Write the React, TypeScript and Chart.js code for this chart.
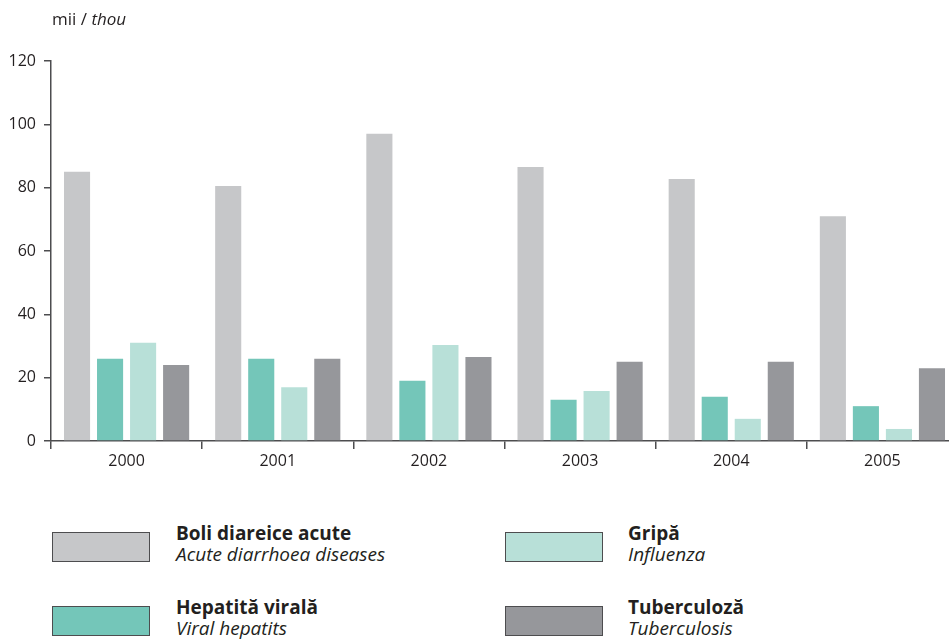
import React, { useEffect, useRef } from "react";
import { Chart, registerables } from "chart.js";

Chart.register(...registerables);

const categories = ["2000", "2001", "2002", "2003", "2004", "2005"];
const diarrhoea = [85, 80.5, 97, 86.5, 82.7, 71];
const hepatitis = [26, 26, 19, 13, 14, 11];
const influenza = [31, 17, 30.3, 15.8, 7, 3.8];
const tuberculosis = [24, 26, 26.5, 25, 25, 23];
const yTicks = [0, 20, 40, 60, 80, 100, 120];

const seriesNames = [
  { ro: "Boli diareice acute", en: "Acute diarrhoea diseases" },
  { ro: "Hepatită virală", en: "Viral hepatits" },
  { ro: "Gripă", en: "Influenza" },
  { ro: "Tuberculoză", en: "Tuberculosis" },
];
const colors = ["#c6c7c9", "#74c6b9", "#b8e0d8", "#96979b"];

const FONT = "'Open Sans', 'Noto Sans', sans-serif";
const AXIS = "#4d4d4f";

export default function App() {
  const ref = useRef<HTMLCanvasElement | null>(null);

  useEffect(() => {
    if (!ref.current) return;
    const data = [diarrhoea, hepatitis, influenza, tuberculosis];
    const chart = new Chart(ref.current, {
      type: "bar",
      data: {
        labels: categories,
        datasets: data.map((d, i) => ({
          label: seriesNames[i].ro,
          data: d,
          backgroundColor: colors[i],
          borderWidth: 0,
          categoryPercentage: 0.874,
          barPercentage: 0.79,
        })),
      },
      options: {
        animation: false,
        responsive: false,
        layout: { padding: { top: 61, left: 0, right: 0, bottom: 0 } },
        plugins: { legend: { display: false }, tooltip: { enabled: false } },
        scales: {
          x: {
            offset: true,
            grid: {
              offset: true,
              drawOnChartArea: false,
              drawTicks: true,
              tickLength: 8,
              color: AXIS,
              lineWidth: 1.5,
            },
            border: { display: true, color: AXIS, width: 1.5 },
            ticks: {
              color: "#231f20",
              font: { family: FONT, size: 16 },
              padding: 3,
              maxRotation: 0,
            },
            afterFit: (s: any) => {
              s.height = 39;
            },
          },
          y: {
            min: 0,
            max: 120,
            afterBuildTicks: (s: any) => {
              s.ticks = yTicks.map((v) => ({ value: v }));
            },
            grid: {
              drawOnChartArea: false,
              drawTicks: true,
              tickLength: 7,
              color: AXIS,
              lineWidth: 1.5,
            },
            border: { display: true, color: AXIS, width: 1.5 },
            ticks: {
              color: "#231f20",
              font: { family: FONT, size: 16 },
              padding: 8,
            },
            afterFit: (s: any) => {
              s.width = 51;
            },
          },
        },
      },
    });
    return () => chart.destroy();
  }, []);

  const legendPos = [
    { left: 52, top: 532, textLeft: 176 },
    { left: 52, top: 606, textLeft: 176 },
    { left: 505, top: 532, textLeft: 628 },
    { left: 505, top: 606, textLeft: 628 },
  ];

  return (
    <div
      style={{
        position: "fixed",
        left: 0,
        top: 0,
        width: 949,
        height: 639,
        overflow: "hidden",
        background: "#fff",
        fontFamily: FONT,
        color: "#231f20",
      }}
    >
      <canvas
        ref={ref}
        width={958}
        height={480}
        style={{ position: "absolute", left: 0, top: 0, width: 958, height: 480 }}
      />
      <div
        style={{
          position: "absolute",
          left: 52,
          top: 9,
          fontSize: 17,
          lineHeight: "20px",
          whiteSpace: "nowrap",
        }}
      >
        mii / <i>thou</i>
      </div>
      {seriesNames.map((s, i) => (
        <React.Fragment key={i}>
          <div
            style={{
              position: "absolute",
              left: legendPos[i].left,
              top: legendPos[i].top,
              width: 98,
              height: 30,
              boxSizing: "border-box",
              border: `1px solid ${AXIS}`,
              background: colors[i],
            }}
          />
          <div
            style={{
              position: "absolute",
              left: legendPos[i].textLeft,
              top: legendPos[i].top - 9,
              fontSize: 19,
              lineHeight: "21px",
              whiteSpace: "nowrap",
            }}
          >
            <div style={{ fontWeight: 700 }}>{s.ro}</div>
            <div style={{ fontStyle: "italic" }}>{s.en}</div>
          </div>
        </React.Fragment>
      ))}
    </div>
  );
}
